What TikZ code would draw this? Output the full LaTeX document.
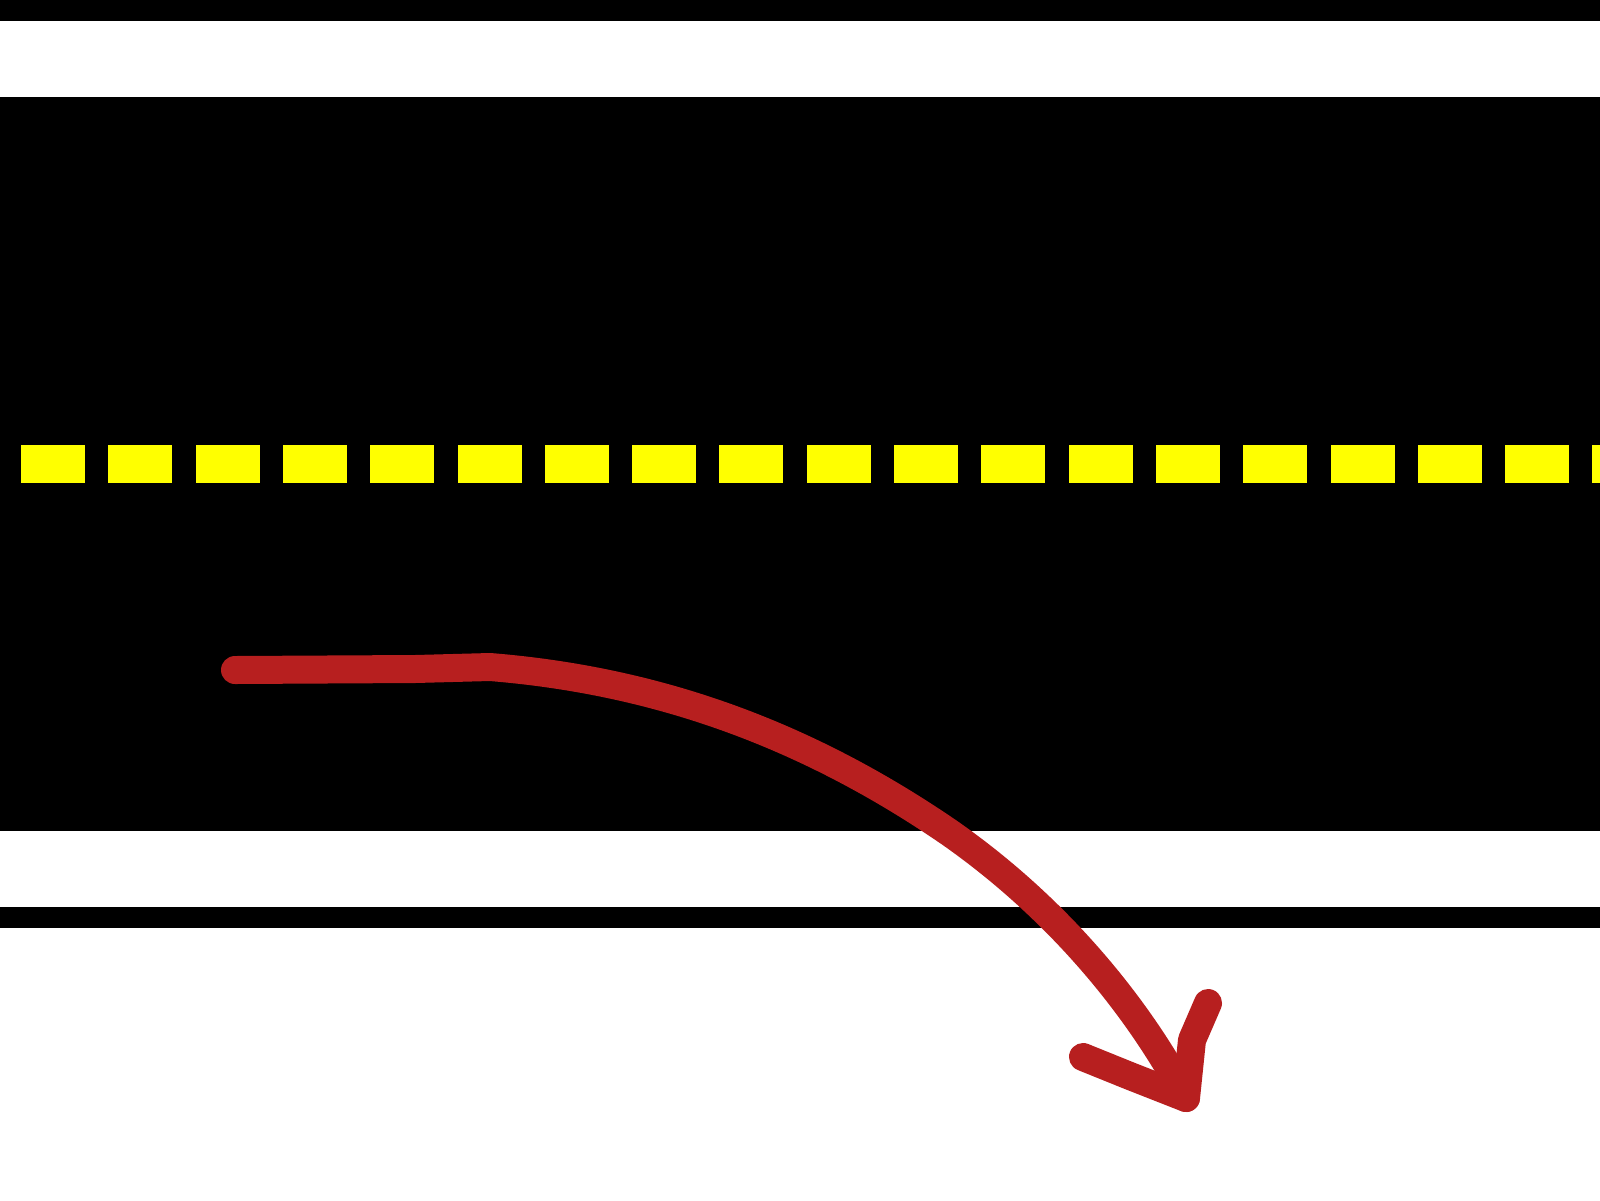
\documentclass[tikz,border=0pt]{standalone}
\definecolor{arrowred}{HTML}{B71F1F}
\definecolor{laneyellow}{HTML}{FFFF00}
\tikzset{
  band/.style={fill=black, draw=none},
  dashbox/.style={fill=laneyellow, draw=none},
  redstroke/.style={draw=arrowred, line width=14pt, line cap=round, line join=round}
}
\begin{document}
\begin{tikzpicture}[x=0.5pt, y=-0.5pt]
  \useasboundingbox (0,0) rectangle (1600,1200);
  \begin{scope}
    \clip (0,0) rectangle (1600,1200);
    \fill[white] (0,0) rectangle (1600,1200);
    % top edge line
    \path[band] (0,0) rectangle (1600,21);
    % road surface
    \path[band] (0,97) rectangle (1600,831);
    % bottom edge line
    \path[band] (0,907) rectangle (1600,928);
    % centre dashes
    \foreach \k in {0,...,18} {
      \path[dashbox] ({21+\k*87.3},445) rectangle ({85+\k*87.3},483);
    }
    % red arrow
    \coordinate (s) at (235,670);
    \coordinate (m) at (950,833);
    \coordinate (tip) at (1186,1098);
    \coordinate (hl) at (1083,1057);
    \coordinate (hr) at (1208,1003);
    \draw[redstroke] (s) -- (415,669) -- (490,667)
      .. controls (650,680) and (800,730) .. (m)
      .. controls (1060,910) and (1140,1010) .. (tip);
    \draw[redstroke] (hl) -- (1130,1076) -- (tip) -- (1192,1040) -- (hr);
  \end{scope}
\end{tikzpicture}
\end{document}
